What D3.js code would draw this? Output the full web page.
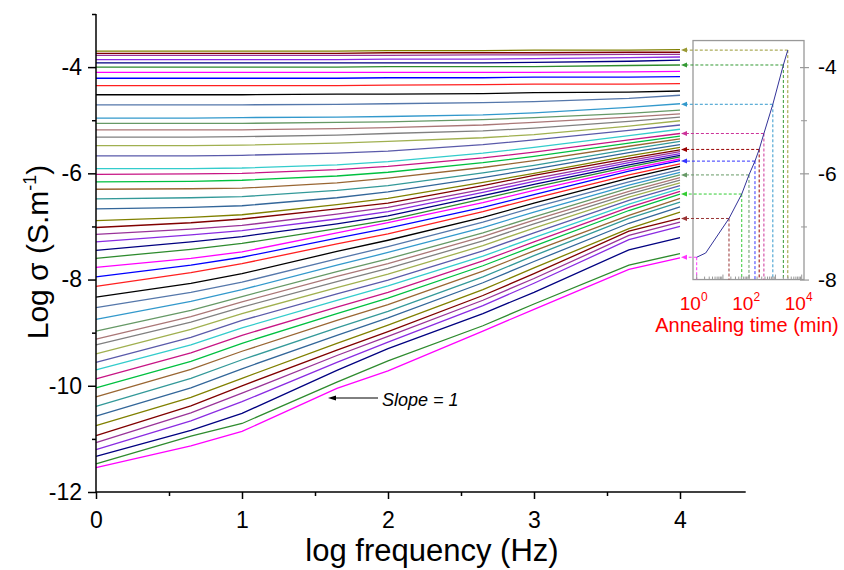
<!DOCTYPE html>
<html><head><meta charset="utf-8">
<script src="https://cdn.jsdelivr.net/npm/d3@7"></script>
<style>
html,body{margin:0;padding:0;background:#fff;}
svg{display:block;font-family:"Liberation Sans",Arial,sans-serif;}
</style></head>
<body><svg id="c" width="844" height="570"></svg>
<script>
// log frequency (Hz) grid of the measured points
const logFreq = [0, 0.65, 1, 1.65, 2, 2.65, 3, 3.65, 4];
// Log sigma for each curve, from the lowest curve (shortest anneal) to the highest
const logSigma = [
 [-11.54,-11.13,-10.86,-10.05,-9.72,-8.97,-8.56,-7.81,-7.59],
 [-11.47,-10.95,-10.71,-9.93,-9.53,-8.87,-8.46,-7.73,-7.51],
 [-11.33,-10.84,-10.52,-9.71,-9.30,-8.64,-8.24,-7.44,-7.21],
 [-11.20,-10.66,-10.30,-9.56,-9.18,-8.49,-8.07,-7.25,-7.00],
 [-11.07,-10.51,-10.14,-9.43,-9.07,-8.39,-7.98,-7.17,-6.92],
 [-10.94,-10.38,-10.00,-9.33,-8.98,-8.30,-7.89,-7.09,-6.85],
 [-10.75,-10.22,-9.86,-9.20,-8.86,-8.19,-7.78,-7.04,-6.73],
 [-10.57,-10.04,-9.68,-9.05,-8.72,-8.06,-7.66,-6.94,-6.63],
 [-10.39,-9.86,-9.51,-8.91,-8.60,-7.95,-7.55,-6.85,-6.54],
 [-10.21,-9.69,-9.35,-8.77,-8.47,-7.84,-7.46,-6.79,-6.47],
 [-10.04,-9.54,-9.20,-8.64,-8.35,-7.74,-7.37,-6.70,-6.39],
 [-9.87,-9.38,-9.05,-8.52,-8.24,-7.65,-7.29,-6.64,-6.34],
 [-9.70,-9.23,-8.91,-8.39,-8.12,-7.56,-7.21,-6.58,-6.29],
 [-9.56,-9.09,-8.77,-8.27,-8.01,-7.46,-7.12,-6.51,-6.23],
 [-9.40,-8.94,-8.64,-8.15,-7.90,-7.36,-7.03,-6.45,-6.18],
 [-9.23,-8.80,-8.52,-8.04,-7.79,-7.27,-6.95,-6.39,-6.13],
 [-9.12,-8.70,-8.42,-7.94,-7.70,-7.19,-6.88,-6.34,-6.08],
 [-8.97,-8.58,-8.32,-7.85,-7.61,-7.12,-6.82,-6.28,-6.03],
 [-8.75,-8.41,-8.19,-7.73,-7.49,-7.02,-6.73,-6.22,-5.98],
 [-8.53,-8.24,-8.05,-7.61,-7.38,-6.92,-6.64,-6.16,-5.93],
 [-8.33,-8.07,-7.89,-7.47,-7.26,-6.83,-6.56,-6.09,-5.87],
 [-8.13,-7.87,-7.70,-7.33,-7.14,-6.72,-6.47,-6.03,-5.82],
 [-7.95,-7.73,-7.58,-7.22,-7.03,-6.64,-6.40,-5.96,-5.76],
 [-7.77,-7.60,-7.48,-7.12,-6.93,-6.55,-6.32,-5.92,-5.73],
 [-7.60,-7.43,-7.32,-7.04,-6.88,-6.48,-6.26,-5.88,-5.69],
 [-7.45,-7.29,-7.19,-6.95,-6.80,-6.42,-6.21,-5.84,-5.66],
 [-7.29,-7.16,-7.08,-6.86,-6.72,-6.36,-6.15,-5.80,-5.63],
 [-7.15,-7.05,-6.98,-6.77,-6.64,-6.30,-6.10,-5.76,-5.59],
 [-7.02,-6.93,-6.86,-6.67,-6.56,-6.23,-6.04,-5.72,-5.56],
 [-6.89,-6.83,-6.78,-6.59,-6.47,-6.17,-6.00,-5.67,-5.51],
 [-6.67,-6.64,-6.61,-6.46,-6.35,-6.08,-5.92,-5.61,-5.46],
 [-6.48,-6.46,-6.44,-6.32,-6.23,-5.99,-5.85,-5.55,-5.40],
 [-6.30,-6.29,-6.28,-6.18,-6.09,-5.89,-5.76,-5.49,-5.35],
 [-6.16,-6.15,-6.13,-6.05,-5.98,-5.80,-5.68,-5.43,-5.30],
 [-6.02,-6.01,-6.00,-5.93,-5.87,-5.71,-5.60,-5.37,-5.25],
 [-5.91,-5.91,-5.90,-5.84,-5.78,-5.62,-5.51,-5.29,-5.17],
 [-5.67,-5.67,-5.66,-5.62,-5.58,-5.46,-5.37,-5.19,-5.09],
 [-5.48,-5.48,-5.47,-5.43,-5.40,-5.33,-5.27,-5.11,-5.01],
 [-5.32,-5.32,-5.31,-5.28,-5.25,-5.20,-5.15,-5.02,-4.94],
 [-5.18,-5.18,-5.18,-5.16,-5.14,-5.09,-5.04,-4.94,-4.88],
 [-5.06,-5.06,-5.06,-5.04,-5.03,-4.99,-4.95,-4.87,-4.81],
 [-4.96,-4.96,-4.95,-4.94,-4.93,-4.90,-4.86,-4.76,-4.69],
 [-4.71,-4.71,-4.71,-4.70,-4.69,-4.67,-4.65,-4.59,-4.53],
 [-4.52,-4.52,-4.52,-4.51,-4.51,-4.50,-4.48,-4.47,-4.45],
 [-4.35,-4.35,-4.35,-4.35,-4.34,-4.33,-4.32,-4.32,-4.31],
 [-4.21,-4.21,-4.21,-4.21,-4.20,-4.20,-4.19,-4.19,-4.18],
 [-4.10,-4.10,-4.10,-4.10,-4.10,-4.10,-4.10,-4.09,-4.08],
 [-4.00,-4.00,-4.00,-4.00,-3.99,-3.99,-3.99,-3.97,-3.96],
 [-3.92,-3.92,-3.92,-3.92,-3.92,-3.92,-3.91,-3.89,-3.87],
 [-3.86,-3.86,-3.86,-3.86,-3.85,-3.85,-3.84,-3.82,-3.81],
 [-3.78,-3.78,-3.78,-3.78,-3.78,-3.77,-3.77,-3.76,-3.76],
 [-3.74,-3.74,-3.74,-3.74,-3.73,-3.73,-3.73,-3.72,-3.72],
 [-3.70,-3.70,-3.70,-3.70,-3.69,-3.69,-3.68,-3.68,-3.67]
];
// colour cycle of the curves (bottom to top)
const palette = ["#ff00ff","#2e8b2e","#000080","#8a2be2","#993399","#800000","#808000",
 "#336699","#339999","#996633","#00c040","#c71585","#33cccc","#5a5aaa","#a0b050",
 "#808080","#aa7777","#669966","#3399cc","#5577aa","#000000","#ff2020","#0000ff"];

// inset: annealing time (min) vs log sigma
const annealTime  = [1, 2.2, 17, 52, 98, 166, 240, 363, 795, 2000, 2950];
const annealSigma = [-7.58, -7.50, -6.85, -6.39, -6.03, -5.77, -5.55, -5.25, -4.70, -3.96, -3.68];
const markedPoints = [0, 2, 3, 4, 5, 6, 7, 8, 9, 10];
const markColors = ["#ff33ff","#993333","#33cc33","#669966","#3333ff","#990000","#cc3399","#3399cc","#339933","#999933"];

const xTicks = [0, 1, 2, 3, 4];
const xMinor = [0.5, 1.5, 2.5, 3.5];
const yTicks = [-12, -10, -8, -6, -4];
const yMinor = [-11, -9, -7, -5, -3];

const svg = d3.select("#c");
const x = d3.scaleLinear().domain([0, 4.45]).range([96, 745.7]);
const y = d3.scaleLinear().domain([-12, -3]).range([492, 14]);

// curves
const line = d3.line().x(d => x(d[0])).y(d => y(d[1]));
svg.append("g").selectAll("path").data(logSigma).join("path")
  .attr("d", s => line(s.map((v, i) => [logFreq[i], v])))
  .attr("fill", "none")
  .attr("stroke", (s, i) => palette[i % palette.length])
  .attr("stroke-width", 1.3);

// axes
const ax = svg.append("g").attr("transform", "translate(0,492)");
ax.call(d3.axisBottom(x).tickValues(xTicks).tickSize(7).tickPadding(13).tickFormat(d3.format("d")));
svg.append("g").attr("transform", "translate(0,492)")
  .call(d3.axisBottom(x).tickValues(xMinor).tickSize(4).tickFormat(""))
  .call(g => g.select(".domain").remove());
const ay = svg.append("g").attr("transform", "translate(96,0)");
ay.call(d3.axisLeft(y).tickValues(yTicks).tickSize(8).tickPadding(6).tickFormat(d => String(d)));
svg.append("g").attr("transform", "translate(96,0)")
  .call(d3.axisLeft(y).tickValues(yMinor).tickSize(4).tickFormat(""))
  .call(g => g.select(".domain").remove());
svg.selectAll(".domain").attr("stroke", "#000").attr("stroke-width", 1.5);
svg.selectAll(".tick line").attr("stroke", "#000").attr("stroke-width", 1.5);
svg.selectAll(".tick text").attr("font-size", 23).attr("fill", "#000")
  .attr("font-family", "'Liberation Sans',Arial,sans-serif");
ax.select(".domain").attr("d", `M${x(0)},0H${x(4.45)}`);
ay.select(".domain").attr("d", `M0,${y(-12)}V${y(-3)}`);

// axis titles
svg.append("text").attr("x", 432).attr("y", 561).attr("text-anchor", "middle")
  .attr("font-size", 31).text("log frequency (Hz)");
const yt = svg.append("text").attr("transform", "translate(48,252) rotate(-90)")
  .attr("text-anchor", "middle").attr("font-size", 30);
yt.append("tspan").text("Log σ (S.m");
yt.append("tspan").attr("font-size", 18).attr("dy", -12).text("-1");
yt.append("tspan").attr("dy", 12).text(")");

// slope annotation
svg.append("line").attr("x1", 378).attr("y1", 398).attr("x2", 332).attr("y2", 398)
  .attr("stroke", "#000").attr("stroke-width", 1);
svg.append("path").attr("d", "M328,398L336,395.5L336,400.5Z").attr("fill", "#000");
svg.append("text").attr("x", 382).attr("y", 406).attr("font-size", 18)
  .attr("font-style", "italic").text("Slope = 1");

// inset
const ix = d3.scaleLog().domain([1, 1e4]).range([696.7, 801.7]);
const ins = svg.append("g");
ins.append("rect").attr("x", 693).attr("y", y(-3.5)).attr("width", 111)
  .attr("height", y(-8) - y(-3.5)).attr("fill", "none").attr("stroke", "#999").attr("stroke-width", 1.3);
markedPoints.forEach((k, j) => {
  const px = ix(annealTime[k]), py = y(annealSigma[k]);
  ins.append("path").attr("d", `M${px},${py}H686`).attr("stroke", markColors[j])
    .attr("stroke-width", 1).attr("stroke-dasharray", "3,2").attr("fill", "none");
  ins.append("path").attr("d", `M${px},${py}V${y(-8)}`).attr("stroke", markColors[j])
    .attr("stroke-width", 1).attr("stroke-dasharray", "3,2").attr("fill", "none");
  ins.append("path").attr("d", `M681,${py}L687,${py - 2.5}L687,${py + 2.5}Z`).attr("fill", markColors[j]);
});
ins.append("path").attr("d", d3.line().x((d, i) => ix(annealTime[i])).y(d => y(d))(annealSigma))
  .attr("fill", "none").attr("stroke", "#333399").attr("stroke-width", 1);
const iay = ins.append("g").attr("transform", "translate(804,0)");
iay.call(d3.axisRight(y).tickValues([-8, -6, -4]).tickSize(5).tickPadding(9).tickFormat(d => String(d)));
iay.select(".domain").remove();
iay.selectAll(".tick line").attr("x1", -4).attr("stroke", "#999").attr("stroke-width", 1.2);
iay.selectAll(".tick text").attr("font-size", 21).attr("fill", "#000");
ins.append("g").attr("transform", "translate(804,0)")
  .call(d3.axisRight(y).tickValues([-7, -5]).tickSize(3).tickFormat(""))
  .call(g => g.select(".domain").remove())
  .selectAll("line").attr("x1", -3).attr("stroke", "#999");
const logTicks = ix.ticks().filter(v => ix(v) >= 693 && ix(v) <= 804);
ins.append("g").selectAll("line").data(logTicks).join("line")
  .attr("x1", d => ix(d)).attr("x2", d => ix(d))
  .attr("y1", y(-8)).attr("y2", d => y(-8) - (Math.abs(Math.log10(d) % 1) < 1e-9 ? 5 : 3))
  .attr("stroke", "#999").attr("stroke-width", 1);
const expo = [0, 2, 4];
expo.forEach(e => {
  const t = ins.append("text").attr("x", ix(Math.pow(10, e)) - 3).attr("y", 310)
    .attr("text-anchor", "middle").attr("font-size", 19).attr("fill", "#ff0000");
  t.append("tspan").text("10");
  t.append("tspan").attr("font-size", 12).attr("dy", -9).text(String(e));
});
ins.append("text").attr("x", 747).attr("y", 332).attr("text-anchor", "middle")
  .attr("font-size", 20).attr("fill", "#ff0000").text("Annealing time (min)");
</script></body></html>
